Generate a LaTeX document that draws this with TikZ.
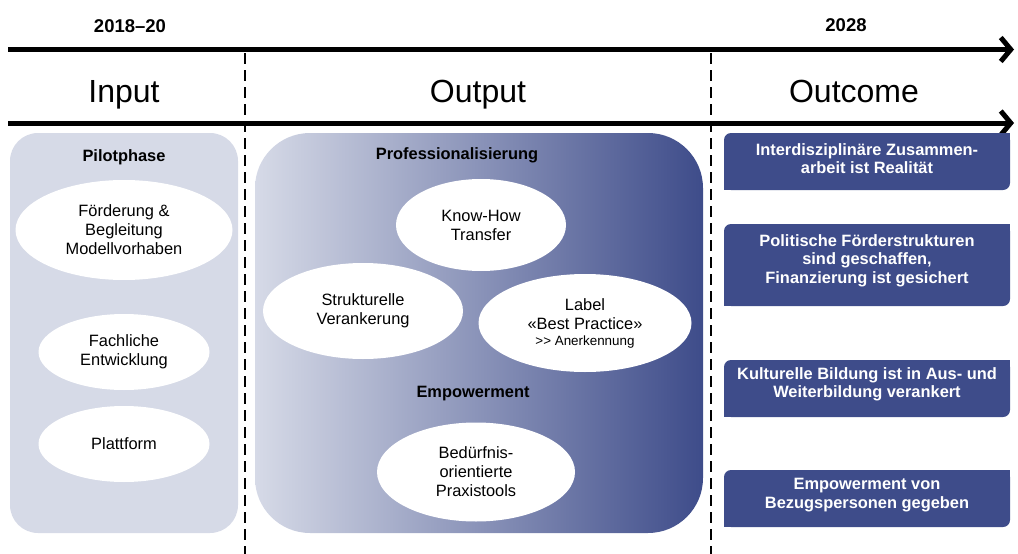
\documentclass[tikz,border=0pt]{standalone}
\usepackage{fontspec}
\setmainfont{Liberation Sans}
\usetikzlibrary{arrows.meta,shapes.geometric}
\definecolor{lightbox}{HTML}{D6DAE7}
\definecolor{darkblue}{HTML}{3E4C8A}
\definecolor{midblue}{HTML}{A4ACC9}
\begin{document}
\begin{tikzpicture}[x=1pt,y=-1pt,
  oval/.style={ellipse, fill=white, inner sep=0pt, align=center, font=\fontsize{16.4}{19}\selectfont},
  head/.style={font=\fontsize{16.4}{19}\selectfont\bfseries},
  bigtitle/.style={font=\fontsize{32}{36}\selectfont, anchor=base},
  year/.style={font=\fontsize{18.5}{22}\selectfont\bfseries, anchor=base},
  outbox/.style={fill=darkblue, rounded corners=7pt, inner sep=0pt, minimum width=286pt},
  outtext/.style={text=white, align=center, font=\fontsize{16.4}{18.5}\selectfont\bfseries},
  timeline/.style={line width=5pt, -{Straight Barb[length=10pt,width=24pt,line width=5pt]}},
  divider/.style={line width=2.5pt, dash pattern=on 11pt off 6pt}
]
\useasboundingbox (0,0) rectangle (1018,554);

% timelines
\coordinate (a1s) at (8,49.5);
\coordinate (a1e) at (1014,49.5);
\coordinate (a2s) at (8,123);
\coordinate (a2e) at (1014,123);
\draw[timeline] (a1s) -- (a1e);
\draw[timeline] (a2s) -- (a2e);

% dividers
\coordinate (d1s) at (245,53);
\coordinate (d1e) at (245,554);
\coordinate (d2s) at (711,53);
\coordinate (d2e) at (711,554);
\draw[divider] (d1s) -- (d1e);
\draw[divider] (d2s) -- (d2e);

% years and titles
\node[year] (y1) at (130,32) {2018–20};
\node[year] (y2) at (846,31) {2028};
\node[bigtitle] (tin) at (124,102) {Input};
\node[bigtitle] (tout) at (478,102) {Output};
\node[bigtitle] (toc) at (854,102) {Outcome};

% input box
\node[fill=lightbox, rounded corners=28pt, minimum width=228pt, minimum height=400pt, inner sep=0pt] (inputbox) at (124,333) {};
\node[head] (pilot) at (124,157.5) {Pilotphase};
\node[oval, minimum width=217pt, minimum height=100pt] (e1) at (124,230) {Förderung \&\\Begleitung\\Modellvorhaben};
\node[oval, minimum width=171pt, minimum height=76pt] (e2) at (124,352) {Fachliche\\Entwicklung};
\node[oval, minimum width=171pt, minimum height=76pt] (e3) at (124,444) {Plattform};

% output box
\node[left color=lightbox, middle color=midblue, right color=darkblue, rounded corners=55pt, minimum width=448pt, minimum height=400pt, inner sep=0pt] (outputbox) at (479,333) {};
\node[head] (prof) at (457,155.5) {Professionalisierung};
\node[oval, minimum width=170pt, minimum height=92pt] (e4) at (481,225) {Know-How\\Transfer};
\node[oval, minimum width=200pt, minimum height=96pt] (e5) at (363,311) {Strukturelle\\Verankerung};
\node[oval, minimum width=213pt, minimum height=98pt] (e6) at (585,323) {Label\\«Best Practice»\\[-3pt]{\fontsize{13.4}{14}\selectfont >{}> Anerkennung}};
\node[head] (emp) at (473,393.5) {Empowerment};
\node[oval, minimum width=198pt, minimum height=99pt] (e7) at (476,472) {Bedürfnis-\\orientierte\\Praxistools};

% outcome boxes
\node[outbox, minimum height=57pt] (o1) at (867,161.5) {};
\node[outbox, minimum height=82pt] (o2) at (867,265) {};
\node[outbox, minimum height=57pt] (o3) at (867,388.5) {};
\node[outbox, minimum height=57pt] (o4) at (867,498.5) {};
\foreach \n in {o1,o2,o3,o4}{
  \fill[darkblue] (\n.north east) rectangle ++(-8,8);
  \fill[darkblue] (\n.south west) rectangle ++(8,-8);
}
\node[outtext] (t1) at (867,158.5) {Interdisziplinäre Zusammen-\\arbeit ist Realität};
\node[outtext] (t2) at (867,260.5) {Politische Förderstrukturen\\sind geschaffen,\\Finanzierung ist gesichert};
\node[outtext] (t3) at (867,384.5) {Kulturelle Bildung ist in Aus- und\\Weiterbildung verankert};
\node[outtext] (t4) at (867,495) {Empowerment von\\Bezugspersonen gegeben};
\end{tikzpicture}
\end{document}
